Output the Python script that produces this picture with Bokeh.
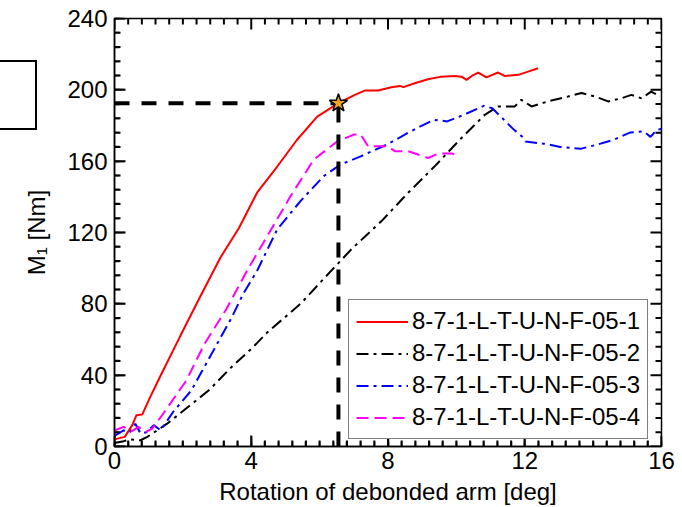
import numpy as np
from bokeh.plotting import figure
from bokeh.layouts import column
from bokeh.models import SingleIntervalTicker, Legend, LegendItem, Div
from bokeh.embed import file_html
from bokeh.resources import INLINE

# ---------------- data ----------------
red_x = [0.0, 0.3, 0.52, 0.64, 0.81, 1.05, 1.35, 1.93, 2.52, 3.1, 3.64, 4.17,
         4.76, 5.34, 5.93, 6.55, 7.03, 7.32, 7.71, 8.1, 8.35, 8.45, 8.78, 9.17,
         9.56, 9.95, 10.15, 10.3, 10.45, 10.64, 10.88, 11.22, 11.41, 11.81,
         12.1, 12.39]
red_y = [4.0, 5.4, 12.0, 17.5, 17.9, 28.0, 39.8, 62.2, 84.5, 106.0, 122.5,
         142.3, 157.0, 172.0, 185.0, 192.5, 197.2, 199.6, 199.6, 201.5, 202.2,
         201.5, 203.7, 205.9, 207.4, 207.8, 207.4, 205.6, 207.8, 209.7, 207.0,
         209.7, 207.8, 208.4, 210.2, 212.1]

black_x = [0.0, 0.27, 0.47, 0.76, 0.96, 1.25, 1.54, 2.03, 2.76, 3.42, 4.0,
           4.47, 5.44, 6.41, 6.93, 7.81, 8.59, 9.37, 10.15, 10.83, 11.22,
           11.71, 11.9, 12.2, 12.68, 13.27, 13.66, 14.05, 14.44, 14.83, 15.12,
           15.41, 15.7, 15.95]
black_y = [2.0, 3.0, 4.0, 3.5, 5.4, 9.1, 12.8, 20.3, 31.5, 44.5, 54.7, 64.0,
           80.0, 100.0, 110.6, 126.4, 142.3, 157.2, 173.0, 186.0, 190.7, 190.7,
           194.4, 190.7, 193.5, 196.3, 198.2, 196.3, 193.5, 195.3, 197.2,
           195.3, 199.0, 196.3]

blue_x = [0.0, 0.27, 0.45, 0.61, 0.76, 0.95, 1.15, 1.35, 1.72, 2.25, 2.63,
          3.0, 3.42, 3.76, 4.17, 4.76, 5.44, 6.12, 6.61, 7.2, 7.97, 8.66,
          9.34, 9.73, 10.22, 10.8, 11.05, 11.34, 11.68, 11.97, 12.02, 12.56,
          13.04, 13.63, 14.12, 14.6, 15.09, 15.48, 15.68, 15.87, 16.0]
blue_y = [6.0, 9.0, 8.0, 12.8, 7.3, 8.0, 12.0, 9.1, 19.5, 31.5, 44.7, 57.5,
          72.0, 85.5, 98.5, 121.8, 137.6, 151.6, 158.1, 162.7, 169.3, 176.7,
          183.2, 182.3, 186.0, 191.0, 189.7, 184.2, 177.7, 173.0, 171.0, 169.8,
          168.0, 166.9, 169.3, 172.0, 176.1, 176.7, 173.6, 177.7, 178.0]

magenta_x = [0.0, 0.27, 0.5, 0.7, 0.9, 1.1, 1.39, 2.1, 2.63, 3.27, 3.9, 4.47,
             5.15, 5.83, 6.51, 7.02, 7.2, 7.42, 7.71, 8.0, 8.2, 8.59, 8.88,
             9.17, 9.47, 9.86, 10.1]
magenta_y = [9.0, 11.0, 8.5, 11.0, 8.0, 10.0, 17.5, 37.0, 57.5, 77.0, 99.4,
             118.0, 140.4, 160.9, 171.0, 175.0, 175.0, 168.3, 168.3, 168.3,
             165.6, 165.6, 163.7, 161.8, 164.2, 164.3, 162.7]

series_labels = ["8-7-1-L-T-U-N-F-05-1", "8-7-1-L-T-U-N-F-05-2",
                 "8-7-1-L-T-U-N-F-05-3", "8-7-1-L-T-U-N-F-05-4"]

star_x = [6.55]
star_y = [192.5]

x_min, x_max, x_major, x_minor = 0, 16, 4, 0.4
y_min, y_max, y_major, y_minor = 0, 240, 40, 8

FONT = "Liberation Sans"
FS = "24px"

W, H = 682, 507
BL, BR, BT, BB = 114, 21, 18, 59

p = figure(width=W, height=H, x_range=(x_min, x_max),
           y_range=(y_min, y_max),
           output_backend="svg", toolbar_location=None,
           min_border_left=BL, min_border_right=BR, min_border_top=BT,
           min_border_bottom=BB)
p.grid.visible = False
p.outline_line_color = "black"
p.outline_line_width = 1.5
p.background_fill_color = "white"
p.border_fill_color = "white"


def style_axis(ax, interval, nminor):
    ax.ticker = SingleIntervalTicker(interval=interval, num_minor_ticks=nminor)
    ax.major_tick_in = 10
    ax.major_tick_out = 0
    ax.minor_tick_in = 5
    ax.minor_tick_out = 0
    ax.axis_line_color = "black"
    ax.axis_line_width = 1.5
    ax.major_tick_line_color = "black"
    ax.minor_tick_line_color = "black"
    ax.major_tick_line_width = 1.5
    ax.minor_tick_line_width = 1.5
    ax.major_label_text_font = FONT
    ax.major_label_text_font_size = FS
    ax.major_label_text_color = "black"
    ax.axis_label_text_font = FONT
    ax.axis_label_text_font_size = FS
    ax.axis_label_text_font_style = "normal"
    ax.axis_label_text_color = "black"


style_axis(p.xaxis[0], x_major, int(round(x_major / x_minor)))
style_axis(p.yaxis[0], y_major, int(round(y_major / y_minor)))
p.xaxis[0].axis_label = "Rotation of debonded arm [deg]"
p.yaxis[0].axis_label = "M\u2081 [Nm]"
p.xaxis[0].major_label_standoff = 5
p.xaxis[0].axis_label_standoff = 6
p.yaxis[0].major_label_standoff = 7
p.yaxis[0].axis_label_standoff = 14

# tick marks on the top and right edges (and again bottom/left), as glyphs
xt_major = np.arange(x_min, x_max + 1e-9, x_major)
yt_major = np.arange(y_min, y_max + 1e-9, y_major)
xt_minor = np.array([v for v in np.arange(x_min, x_max + 1e-9, x_minor)
                     if not np.any(np.isclose(v, xt_major))])
yt_minor = np.array([v for v in np.arange(y_min, y_max + 1e-9, y_minor)
                     if not np.any(np.isclose(v, yt_major))])

tick_kw = dict(marker="dash", line_color="black", line_width=2)
for xs, size in ((xt_minor, 12), (xt_major, 22)):
    n = len(xs)
    p.scatter(x=xs, y=[y_min] * n, size=size, angle=np.pi / 2, **tick_kw)
    p.scatter(x=xs, y=[y_max] * n, size=size, angle=np.pi / 2, **tick_kw)
for ys, size in ((yt_minor, 12), (yt_major, 22)):
    n = len(ys)
    p.scatter(x=[x_min] * n, y=ys, size=size, angle=0.0, **tick_kw)
    p.scatter(x=[x_max] * n, y=ys, size=size, angle=0.0, **tick_kw)

r1 = p.line(red_x, red_y, line_color="#ff0000", line_width=2)
r2 = p.line(black_x, black_y, line_color="black", line_width=2,
            line_dash="12 5 3 5")
r3 = p.line(blue_x, blue_y, line_color="#0000ff", line_width=2,
            line_dash="12 5 3 5")
r4 = p.line(magenta_x, magenta_y, line_color="#ff00ff", line_width=2,
            line_dash="12 6")

p.line([x_min, star_x[0]], [star_y[0], star_y[0]], line_color="black",
       line_width=4, line_dash="15 12")
p.line([star_x[0], star_x[0]], [y_min, star_y[0]], line_color="black",
       line_width=4, line_dash="15 12")
p.scatter(star_x, star_y, marker="star", size=19, fill_color="#f2a31c",
          line_color="black", line_width=1.5)

legend = Legend(items=[LegendItem(label=series_labels[0], renderers=[r1]),
                       LegendItem(label=series_labels[1], renderers=[r2]),
                       LegendItem(label=series_labels[2], renderers=[r3]),
                       LegendItem(label=series_labels[3], renderers=[r4])],
                location=(234, 7))
legend.label_text_font = FONT
legend.label_text_font_size = FS
legend.label_text_color = "black"
legend.glyph_width = 52
legend.glyph_height = 25
legend.label_height = 25
legend.label_standoff = 4
legend.spacing = 4
legend.padding = 7
legend.margin = 0
legend.border_line_color = "black"
legend.border_line_width = 1.5
legend.background_fill_color = "white"
legend.background_fill_alpha = 1
p.add_layout(legend, "center")

# leftover empty box at the left edge, outside the plotting frame
box = Div(text="", styles={"position": "absolute", "left": "-25px",
                           "top": "55px", "width": "53px", "height": "66px",
                           "border": "2px solid black",
                           "box-sizing": "content-box",
                           "z-index": "10", "pointer-events": "none"})

layout = column(p, box)
open("out.html", "w").write(file_html(layout, INLINE))
